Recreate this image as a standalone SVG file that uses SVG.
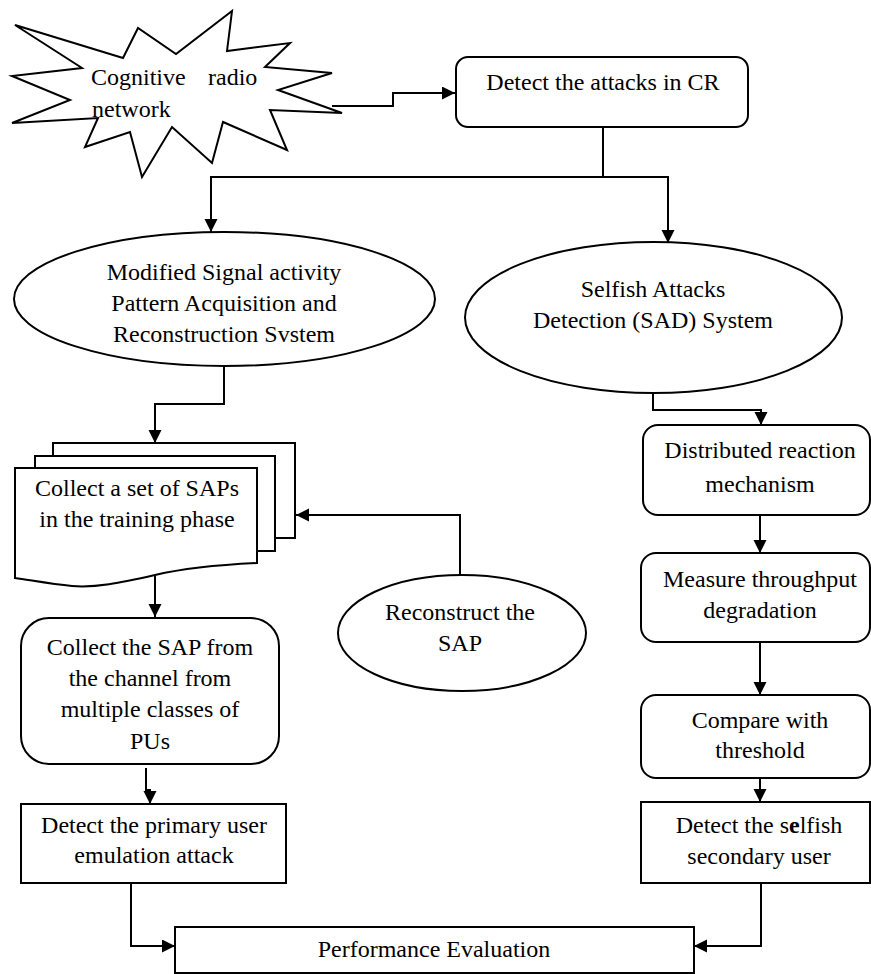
<svg xmlns="http://www.w3.org/2000/svg" width="871" height="974" viewBox="0 0 871 974">
<style>
  .s { fill: #fff; stroke: #000; stroke-width: 2; }
  .c { fill: none; stroke: #000; stroke-width: 2; }
  .t { font-family: 'Liberation Serif', Tinos, 'Times New Roman', 'DejaVu Serif', serif; font-size: 24px; fill: #000; }
  .m { text-anchor: middle; }
</style>
<defs>
  <marker id="ah" markerUnits="userSpaceOnUse" markerWidth="14" markerHeight="14" refX="13" refY="6.5" orient="auto">
    <path d="M0,0 L13,6.5 L0,13 z" fill="#000"/>
  </marker>
</defs>
<rect width="871" height="974" fill="#fff"/>

<g id="connectors">
  <path class="c" d="M332,106 H393 V93 H455" marker-end="url(#ah)"/>
  <path class="c" d="M603,127 V177 H211 V232" marker-end="url(#ah)"/>
  <path class="c" d="M603,177 H668 V243" marker-end="url(#ah)"/>
  <path class="c" d="M224,366 V404 H155 V443" marker-end="url(#ah)"/>
  <path class="c" d="M155,575 V617" marker-end="url(#ah)"/>
  <path class="c" d="M460,575 V515 H296" marker-end="url(#ah)"/>
  <path class="c" d="M146,768 V790 H150 V804" marker-end="url(#ah)"/>
  <path class="c" d="M653,393 V410 H761 V425" marker-end="url(#ah)"/>
  <path class="c" d="M760,515 V553" marker-end="url(#ah)"/>
  <path class="c" d="M760,642 V695" marker-end="url(#ah)"/>
  <path class="c" d="M760,778 V802" marker-end="url(#ah)"/>
  <path class="c" d="M131,883 V946 H175" marker-end="url(#ah)"/>
  <path class="c" d="M761,883 V946 H694" marker-end="url(#ah)"/>
</g>

<g id="cognitive-radio-network">
  <polygon class="s" points="15,25 123,58 138,28 176,54 232,11 227,51 290,43 265,67 332,73 278,90 342,113 270,110 287,150 223,122 212,163 172,127 142,177 130,132 85,147 98,118 12,123 70,100 12,76 82,68"/>
  <text class="t" x="91" y="85">Cognitive</text>
  <text class="t" x="208" y="85">radio</text>
  <text class="t" x="92" y="117">network</text>
</g>

<g id="detect-attacks">
  <rect class="s" x="456" y="57" width="292" height="70" rx="12"/>
  <text class="t m" x="603" y="90">Detect the attacks in CR</text>
</g>

<g id="modified-sap-system">
  <ellipse class="s" cx="224.5" cy="299" rx="210.5" ry="67"/>
  <text class="t m" x="224" y="280">Modified Signal activity</text>
  <text class="t m" x="224" y="311">Pattern Acquisition and</text>
  <text class="t m" x="224" y="342">Reconstruction Svstem</text>
</g>

<g id="sad-system">
  <ellipse class="s" cx="653.5" cy="317.5" rx="188.5" ry="75.5"/>
  <text class="t m" x="653" y="297">Selfish Attacks</text>
  <text class="t m" x="653" y="328">Detection (SAD) System</text>
</g>

<g id="collect-saps">
  <rect class="s" x="53" y="443" width="242" height="95"/>
  <rect class="s" x="35" y="456" width="240" height="95"/>
  <path class="s" d="M15,468 H257 V563 C215,565 185,568 155,575 C120,583 95,588 72,586 C50,584 30,580 15,578 Z"/>
  <text class="t m" x="137" y="496">Collect a set of SAPs</text>
  <text class="t m" x="137" y="527">in the training phase</text>
</g>

<g id="reconstruct-sap">
  <ellipse class="s" cx="462" cy="633" rx="124" ry="58"/>
  <text class="t m" x="460" y="620">Reconstruct the</text>
  <text class="t m" x="460" y="651">SAP</text>
</g>

<g id="collect-sap-channel">
  <rect class="s" x="21" y="618" width="258" height="146" rx="28"/>
  <text class="t m" x="150" y="655">Collect the SAP from</text>
  <text class="t m" x="150" y="686">the channel from</text>
  <text class="t m" x="150" y="717">multiple classes of</text>
  <text class="t m" x="150" y="749">PUs</text>
</g>

<g id="detect-pue">
  <rect class="s" x="21" y="804" width="265" height="79"/>
  <text class="t m" x="154" y="833">Detect the primary user</text>
  <text class="t m" x="154" y="863">emulation attack</text>
</g>

<g id="distributed-reaction">
  <rect class="s" x="643" y="425" width="227" height="90" rx="15"/>
  <text class="t m" x="760" y="458">Distributed reaction</text>
  <text class="t m" x="760" y="492">mechanism</text>
</g>

<g id="measure-throughput">
  <rect class="s" x="641" y="553" width="229" height="89" rx="15"/>
  <text class="t m" x="760" y="587">Measure throughput</text>
  <text class="t m" x="760" y="618">degradation</text>
</g>

<g id="compare-threshold">
  <rect class="s" x="641" y="695" width="229" height="83" rx="15"/>
  <text class="t m" x="760" y="728">Compare with</text>
  <text class="t m" x="760" y="758">threshold</text>
</g>

<g id="detect-selfish">
  <rect class="s" x="641" y="802" width="229" height="81"/>
  <text class="t m" x="759" y="833">Detect the s<tspan font-weight="bold">e</tspan>lfish</text>
  <text class="t m" x="759" y="864">secondary user</text>
</g>

<g id="performance-evaluation">
  <rect class="s" x="175" y="927" width="519" height="46"/>
  <text class="t m" x="434" y="957">Performance Evaluation</text>
</g>
</svg>
